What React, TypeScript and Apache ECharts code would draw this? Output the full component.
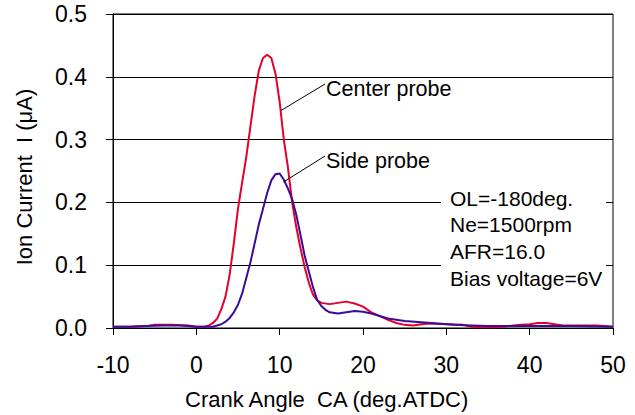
import React, { useEffect, useRef } from "react";
import * as echarts from "echarts";

// Crank angle (deg ATDC) / ion current (μA) readings
const centerCA = [-10, -8, -6, -5, -3, -1, 0, 1, 1.5, 2, 2.5, 3, 3.5, 4, 4.5, 5, 5.5, 6, 6.5, 7, 7.5, 8, 8.5, 9, 9.5, 10, 10.5, 11, 11.5, 12, 12.5, 13, 13.5, 14, 14.5, 15, 16, 17, 18, 19, 20, 21, 22, 23, 24, 25, 26, 27, 28, 30, 32, 33, 35, 37, 38, 39, 40, 41, 42, 43, 44, 46, 48, 49, 50];
const centerI = [0.002, 0.002, 0.003, 0.005, 0.005, 0.004, 0.002, 0.002, 0.004, 0.008, 0.015, 0.03, 0.05, 0.085, 0.135, 0.19, 0.232, 0.273, 0.322, 0.37, 0.41, 0.43, 0.435, 0.43, 0.405, 0.36, 0.3, 0.255, 0.2, 0.16, 0.127, 0.097, 0.072, 0.053, 0.044, 0.04, 0.038, 0.04, 0.042, 0.039, 0.034, 0.025, 0.019, 0.013, 0.008, 0.005, 0.004, 0.006, 0.007, 0.006, 0.005, 0.002, 0.001, 0.002, 0.004, 0.005, 0.006, 0.008, 0.008, 0.006, 0.004, 0.004, 0.004, 0.003, 0.002];

const sideCA = [-10, -8, -6, -4, -2, -1, 0, 1, 2, 2.5, 3, 3.5, 4, 4.5, 5, 5.5, 6, 6.5, 7, 7.5, 8, 8.5, 9, 9.5, 10, 10.5, 11, 11.5, 12, 12.5, 13, 13.5, 14, 14.5, 15, 15.5, 16, 17, 18, 19, 20, 21, 22, 23, 24, 25, 27, 29, 31, 33, 35, 40, 45, 50];
const sideI = [0.002, 0.002, 0.003, 0.004, 0.004, 0.003, 0.002, 0.002, 0.002, 0.004, 0.006, 0.01, 0.016, 0.025, 0.037, 0.055, 0.08, 0.105, 0.135, 0.165, 0.19, 0.215, 0.235, 0.245, 0.246, 0.236, 0.222, 0.205, 0.18, 0.148, 0.115, 0.09, 0.065, 0.045, 0.035, 0.029, 0.025, 0.023, 0.025, 0.027, 0.026, 0.023, 0.019, 0.015, 0.013, 0.011, 0.009, 0.007, 0.005, 0.004, 0.003, 0.003, 0.003, 0.002];

const seriesNames = ["Center probe", "Side probe"];
const conditionLines = ["OL=-180deg.", "Ne=1500rpm", "AFR=16.0", "Bias voltage=6V"];
const xAxisTitle = "Crank Angle\u00a0 CA (deg.ATDC)";
const yAxisTitle = "Ion Current\u00a0 I (μA)";

const FONT = "'Liberation Sans', Arial, sans-serif";

export default function App() {
  const ref = useRef<HTMLDivElement>(null);
  useEffect(() => {
    if (!ref.current) return;
    const chart = echarts.init(ref.current, undefined, { renderer: "svg" });
    const pair = (xs: number[], ys: number[]) => xs.map((x, i) => [x, ys[i]]);
    chart.setOption({
      animation: false,
      backgroundColor: "#ffffff",
      textStyle: { fontFamily: FONT },
      grid: {
        left: 113,
        right: 22,
        top: 14,
        bottom: 87,
        show: true,
        borderColor: "#000",
        borderWidth: 1,
        backgroundColor: "transparent",
      },
      xAxis: {
        type: "value",
        min: -10,
        max: 50,
        interval: 10,
        axisLine: { show: true, onZero: false, lineStyle: { color: "#000", width: 1 } },
        axisTick: { show: true, inside: false, length: 7, lineStyle: { color: "#000" } },
        axisLabel: { color: "#000", fontSize: 23, fontFamily: FONT, margin: 25 },
        splitLine: { show: false },
      },
      yAxis: {
        type: "value",
        min: 0,
        max: 0.5,
        interval: 0.1,
        axisLine: { show: true, onZero: false, lineStyle: { color: "#000", width: 1 } },
        axisTick: { show: true, inside: false, length: 7, lineStyle: { color: "#000" } },
        axisLabel: {
          color: "#000",
          fontSize: 23,
          fontFamily: FONT,
          margin: 26,
          formatter: (v: number) => v.toFixed(1),
        },
        splitLine: { show: true, lineStyle: { color: "#000", width: 1 } },
      },
      series: [
        {
          name: seriesNames[0],
          type: "line",
          data: pair(centerCA, centerI),
          showSymbol: false,
          lineStyle: { color: "#E4002B", width: 2 },
          itemStyle: { color: "#E4002B" },
          z: 2,
        },
        {
          name: seriesNames[1],
          type: "line",
          data: pair(sideCA, sideI),
          showSymbol: false,
          lineStyle: { color: "#3B0B9A", width: 2 },
          itemStyle: { color: "#3B0B9A" },
          z: 3,
        },
      ],
      graphic: [
        {
          type: "rect",
          shape: { x: 441, y: 184, width: 165, height: 108 },
          style: { fill: "#ffffff" },
          z: 10,
        },
        ...conditionLines.map((t, i) => ({
          type: "text",
          x: 450,
          y: 198 + i * 26.7,
          style: {
            text: t,
            fill: "#000",
            fontSize: 21,
            fontFamily: FONT,
            textAlign: "left",
            textVerticalAlign: "middle",
          },
          z: 11,
        })),
        {
          type: "line",
          shape: { x1: 281, y1: 110.5, x2: 325, y2: 84 },
          style: { stroke: "#000", lineWidth: 1 },
          z: 11,
        },
        {
          type: "line",
          shape: { x1: 283.5, y1: 182, x2: 325, y2: 156 },
          style: { stroke: "#000", lineWidth: 1 },
          z: 11,
        },
        {
          type: "text",
          x: 326,
          y: 89,
          style: {
            text: seriesNames[0],
            fill: "#000",
            fontSize: 21.5,
            fontFamily: FONT,
            textAlign: "left",
            textVerticalAlign: "middle",
          },
          z: 11,
        },
        {
          type: "text",
          x: 326,
          y: 161,
          style: {
            text: seriesNames[1],
            fill: "#000",
            fontSize: 21.5,
            fontFamily: FONT,
            textAlign: "left",
            textVerticalAlign: "middle",
          },
          z: 11,
        },
        {
          type: "text",
          x: 185,
          y: 399,
          style: {
            text: xAxisTitle,
            fill: "#000",
            fontSize: 22,
            fontFamily: FONT,
            textAlign: "left",
            textVerticalAlign: "middle",
          },
          z: 11,
        },
        {
          type: "text",
          x: 24,
          y: 177,
          rotation: Math.PI / 2,
          style: {
            text: yAxisTitle,
            fill: "#000",
            fontSize: 22,
            fontFamily: FONT,
            textAlign: "center",
            textVerticalAlign: "middle",
          },
          z: 11,
        },
      ],
    });
    return () => chart.dispose();
  }, []);
  return (
    <div
      ref={ref}
      style={{ position: "absolute", left: 0, top: 0, width: 635, height: 415 }}
    />
  );
}
